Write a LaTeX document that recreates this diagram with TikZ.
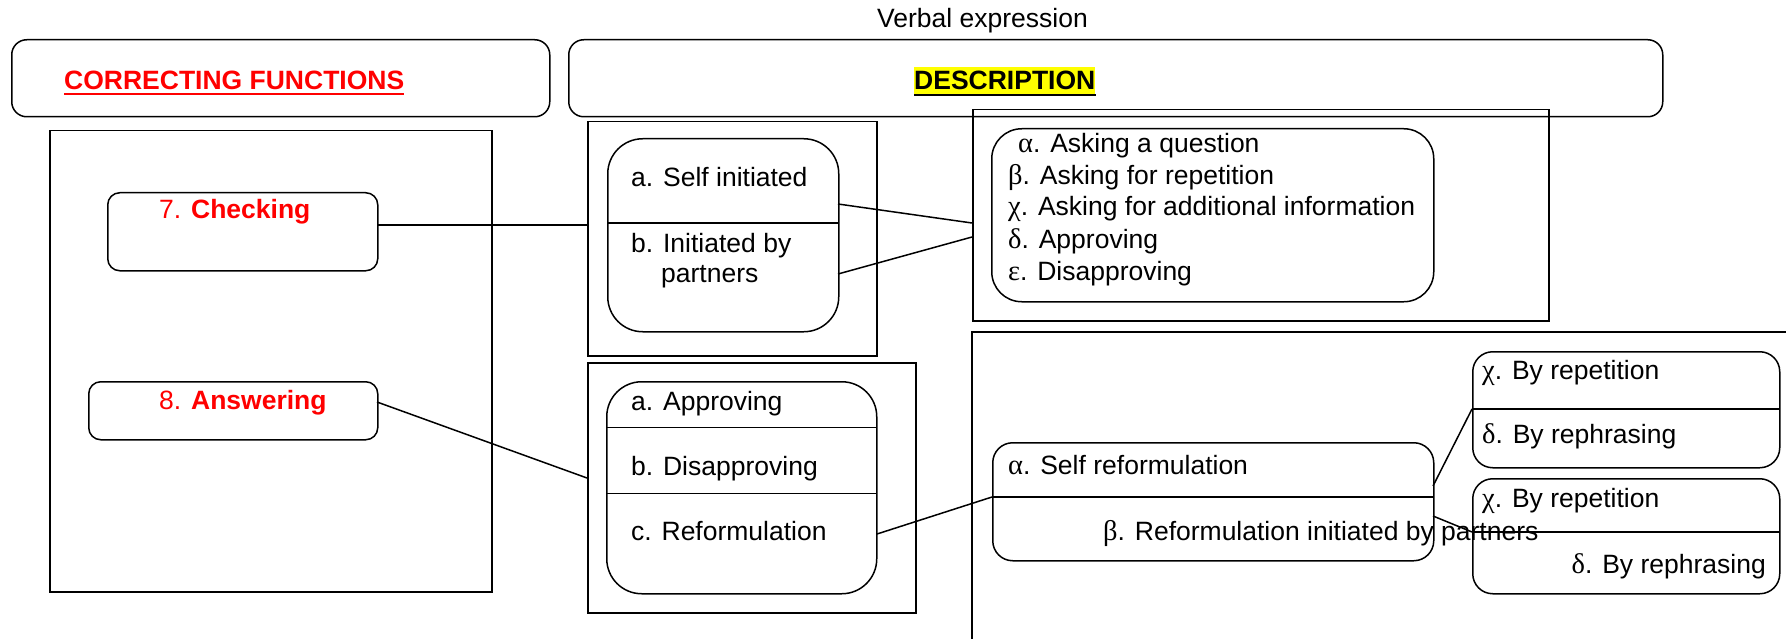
\documentclass[tikz,border=0pt]{standalone}
\usepackage{fontspec}
\setmainfont{Liberation Sans}
\newfontfamily\grkf{Liberation Serif}
\newcommand{\grk}{\grkf\fontsize{28.5}{31}\selectfont}
\usetikzlibrary{calc}
\definecolor{cred}{RGB}{255,0,0}
\definecolor{hyel}{RGB}{255,255,0}
\begin{document}
\begin{tikzpicture}[x=1pt,y=-1pt,
  shp/.style={draw, line width=1.5pt, inner sep=0, anchor=north west},
  txt/.style={anchor=base west, inner sep=0, font=\fontsize{26.5}{31}\selectfont},
  conn/.style={line width=1.5pt},
  thin/.style={line width=1pt}]
\useasboundingbox (0,0) rectangle (1786,639);
% title
\node[txt] (verb) at (877,28) {Verbal expression};
% header boxes
\node[shp, rounded corners=15, minimum width=538, minimum height=77] (hdrL) at (11,39) {};
\node[shp, rounded corners=15, minimum width=1094, minimum height=77] (hdrR) at (568,39) {};
\node[txt, text=cred] (corr) at (64,90) {\textbf{CORRECTING FUNCTIONS}};
\draw[cred, line width=2pt] ($(corr.base west)+(0,4)$) -- ($(corr.base east)+(0,4)$);
\node[txt, fill=hyel, text height=23pt, text depth=6pt] (desc) at (914,90) {\textbf{DESCRIPTION}};
\draw[line width=2pt] ($(desc.base west)+(0,5)$) -- ($(desc.base east)+(0,5)$);
% left column
\node[shp, minimum width=442, minimum height=461] (bigL) at (49,130) {};
\node[shp, rounded corners=12, minimum width=270, minimum height=78] (chk) at (107,192) {};
\node[shp, rounded corners=12, minimum width=289, minimum height=58] (ans) at (88,381) {};
\node[txt, text=cred] (chkT) at (159,219) {7. \textbf{Checking}};
\node[txt, text=cred] (ansT) at (159,409) {8. \textbf{Answering}};
% middle column, upper
\node[shp, minimum width=289, minimum height=234] (cont1) at (587,121) {};
\node[shp, rounded corners=35, minimum width=231, minimum height=193] (sbox) at (607,138) {};
\draw[conn] (607,223) -- (838,223);
\node[txt] (sa) at (631,187) {a. Self initiated};
\node[txt] (sb) at (631,252) {b. Initiated by};
\node[txt] (sb2) at (661,283) {partners};
% middle column, lower
\node[shp, minimum width=328, minimum height=250] (cont2) at (587,362) {};
\node[shp, rounded corners=35, minimum width=270, minimum height=212] (abox) at (606,381) {};
\draw[thin] (606,427) -- (876,427);
\draw[thin] (606,493) -- (876,493);
\node[txt] (aa) at (631,410) {a. Approving};
\node[txt] (ab) at (631,475) {b. Disapproving};
\node[txt] (ac) at (631,540) {c. Reformulation};
% right upper
\node[shp, minimum width=576, minimum height=211] (cont3) at (972,109) {};
\node[shp, rounded corners=30, minimum width=442, minimum height=173] (gbox) at (991,128) {};
\node[txt] (g1) at (1018,153) {{\grk α}. Asking a question};
\node[txt] (g2) at (1008,185) {{\grk β}. Asking for repetition};
\node[txt] (g3) at (1008,216) {{\grk χ}. Asking for additional information};
\node[txt] (g4) at (1008,248) {{\grk δ}. Approving};
\node[txt] (g5) at (1008,280) {{\grk ε}. Disapproving};
% right lower
\draw[line width=1.5pt] (972,641) -- (972,332) -- (1790,332);
\coordinate (cont4) at (972,332);
\node[shp, rounded corners=20, minimum width=441, minimum height=118] (refbox) at (992,442) {};
\draw[conn] (992,497) -- (1433,497);
\node[txt] (r1) at (1008,474) {{\grk α}. Self reformulation};
\node[shp, rounded corners=20, minimum width=307, minimum height=116] (ur1) at (1472,351) {};
\draw[conn] (1472,409) -- (1779,409);
\node[txt] (u1) at (1482,379) {{\grk χ}. By repetition};
\node[txt] (u2) at (1482,443) {{\grk δ}. By rephrasing};
\node[shp, rounded corners=20, minimum width=307, minimum height=115] (ur2) at (1472,478) {};
\draw[conn] (1472,532) -- (1779,532);
\node[txt] (u3) at (1482,507) {{\grk χ}. By repetition};
\node[txt, anchor=base east] (u4) at (1766,573) {{\grk δ}. By rephrasing};
\node[txt] (r2) at (1103,540) {{\grk β}. Reformulation initiated by partners};
% connector end points
\coordinate (chkR) at (377,225);
\coordinate (ansR) at (377,402);
\coordinate (ansE) at (587,478);
\coordinate (saR) at (838,204);
\coordinate (sbR) at (838,274);
\coordinate (gL1) at (972,223);
\coordinate (gL2) at (972,237);
\coordinate (acR) at (877,534);
\coordinate (refL) at (992,497);
\coordinate (refR1) at (1433,486);
\coordinate (refR2) at (1433,516);
\coordinate (ur1L) at (1472,409);
\coordinate (ur2L) at (1472,532);
% connectors
\draw[conn] (chkR) -- (cont1.west |- chkR);
\draw[conn] (ansR) -- (ansE);
\draw[conn] (saR) -- (gL1);
\draw[conn] (sbR) -- (gL2);
\draw[conn] (acR) -- (refL);
\draw[conn] (refR1) -- (ur1L);
\draw[conn] (refR2) -- (ur2L);
\end{tikzpicture}
\end{document}
